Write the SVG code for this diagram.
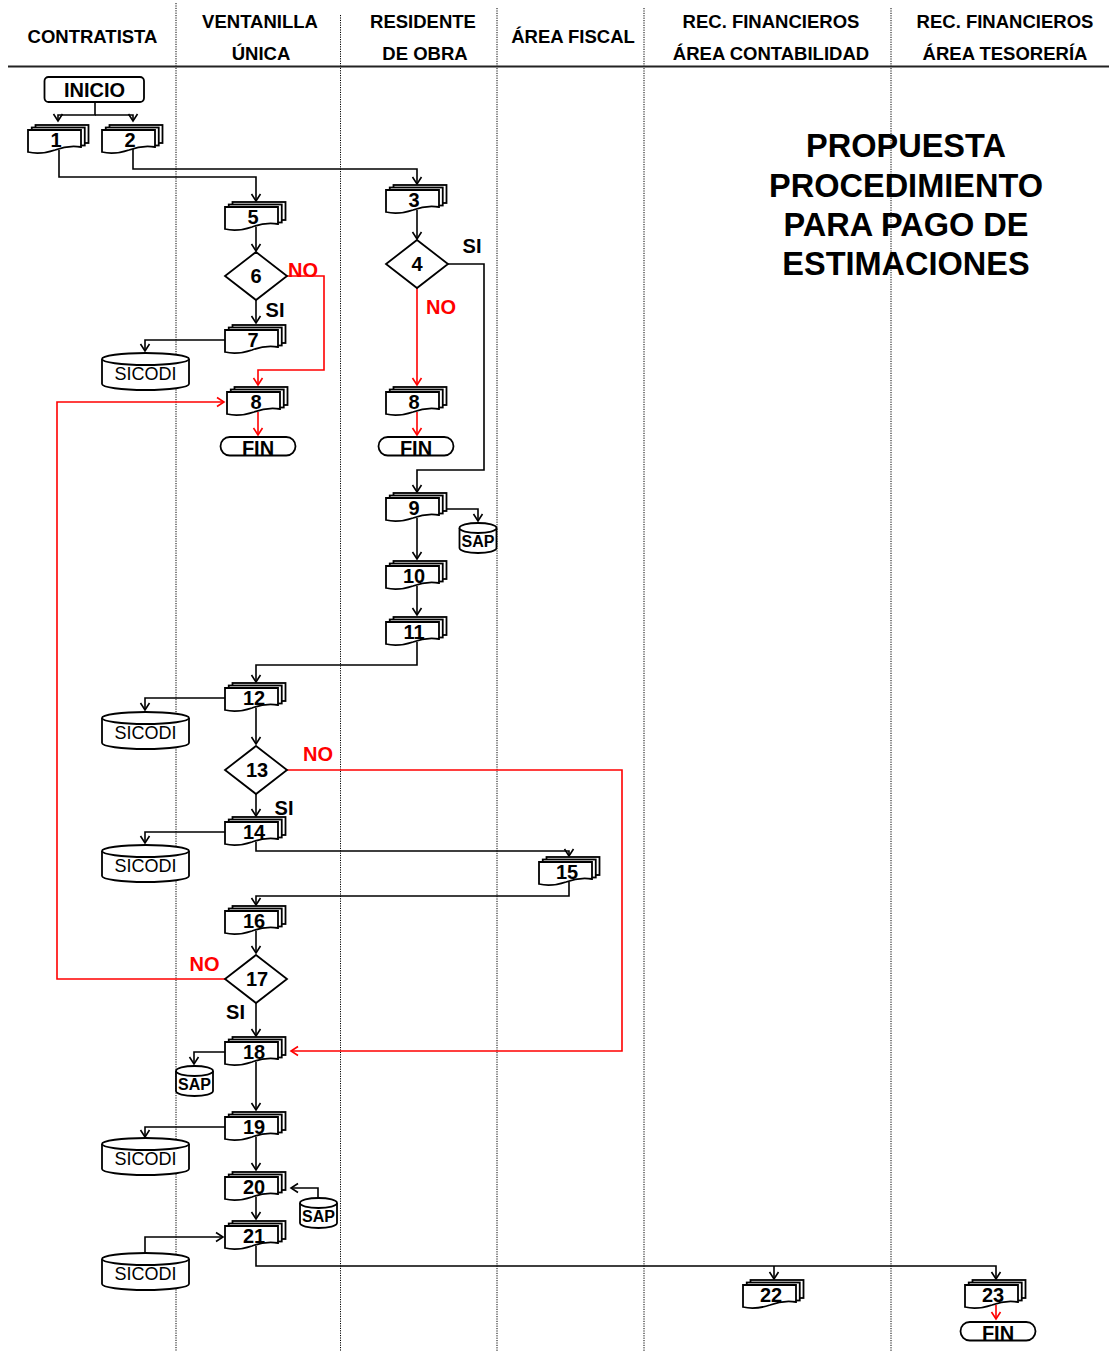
<svg xmlns="http://www.w3.org/2000/svg" xmlns:xlink="http://www.w3.org/1999/xlink" width="1109" height="1351" viewBox="0 0 1109 1351">
<style>
text{font-family:"Liberation Sans",Arial,sans-serif;text-anchor:middle}
.hd{font-size:18.5px;font-weight:bold}
.tt{font-size:32.5px;font-weight:bold}
.num{font-size:20px;font-weight:bold}
.lb{font-size:20px;font-weight:bold}
.red{fill:#ff0000}
.db{font-size:18px}
.sap{font-size:16px;font-weight:bold}
.term{font-size:20px;font-weight:bold}
.lane{stroke:#000;stroke-width:1;stroke-dasharray:1.2 1.2;fill:none}
.shp{fill:#fff;stroke:#000;stroke-width:1.8}
.c{fill:none;stroke:#000;stroke-width:1.6}
.cr{fill:none;stroke:#ff0000;stroke-width:1.6}
</style>
<defs>
<marker id="ab" markerUnits="userSpaceOnUse" viewBox="-10 -6 12 12" refX="0" refY="0" markerWidth="12" markerHeight="12" orient="auto" overflow="visible">
<path d="M-7,-4.5 L0,0 L-7,4.5" fill="none" stroke="#000" stroke-width="1.6"/>
</marker>
<marker id="ar" markerUnits="userSpaceOnUse" viewBox="-10 -6 12 12" refX="0" refY="0" markerWidth="12" markerHeight="12" orient="auto" overflow="visible">
<path d="M-7,-4.5 L0,0 L-7,4.5" fill="none" stroke="#ff0000" stroke-width="1.6"/>
</marker>
<g id="doc">
<rect x="7.5" y="-5" width="53" height="18" class="shp"/>
<rect x="3.75" y="-2.5" width="53" height="18" class="shp"/>
<path d="M0,0 H53 V17 Q40,15 27,20 Q12,25 0,22 Z" class="shp"/>
</g>
<g id="sicodi">
<path d="M0,6 A43.5,6 0 0 1 87,6 V31 A43.5,6 0 0 1 0,31 Z" class="shp"/>
<path d="M0,6 A43.5,6 0 0 0 87,6" class="shp" fill="none"/>
</g>
<g id="sapdb">
<path d="M0,5 A18.5,5 0 0 1 37,5 V25 A18.5,5 0 0 1 0,25 Z" class="shp"/>
<path d="M0,5 A18.5,5 0 0 0 37,5" class="shp" fill="none"/>
</g>
</defs>
<rect width="1109" height="1351" fill="#fff"/>

<g id="lanes">
<line x1="176" y1="3" x2="176" y2="1351" class="lane"/>
<line x1="340.5" y1="15" x2="340.5" y2="1351" class="lane"/>
<line x1="497" y1="8" x2="497" y2="1351" class="lane"/>
<line x1="644" y1="8" x2="644" y2="1351" class="lane"/>
<line x1="891" y1="8" x2="891" y2="1351" class="lane"/>
<line x1="8" y1="66.5" x2="1109" y2="66.5" stroke="#222" stroke-width="2"/>
</g>

<g id="headers">
<text x="92.5" y="43" class="hd">CONTRATISTA</text>
<text x="260" y="28" class="hd">VENTANILLA</text>
<text x="261" y="60" class="hd">ÚNICA</text>
<text x="423" y="28" class="hd">RESIDENTE</text>
<text x="425" y="60" class="hd">DE OBRA</text>
<text x="573" y="43" class="hd">ÁREA FISCAL</text>
<text x="771" y="28" class="hd">REC. FINANCIEROS</text>
<text x="771" y="60" class="hd">ÁREA CONTABILIDAD</text>
<text x="1005" y="28" class="hd">REC. FINANCIEROS</text>
<text x="1005" y="60" class="hd">ÁREA TESORERÍA</text>
</g>

<g id="title">
<text x="906" y="157" class="tt">PROPUESTA</text>
<text x="906" y="197" class="tt">PROCEDIMIENTO</text>
<text x="906" y="236" class="tt">PARA PAGO DE</text>
<text x="906" y="275" class="tt">ESTIMACIONES</text>
</g>

<g id="connectors">
<path d="M95,102 V115 H58 V121" class="c" marker-end="url(#ab)"/>
<path d="M95,115 H133 V121" class="c" marker-end="url(#ab)"/>
<path d="M59,150 V177 H256 V201" class="c" marker-end="url(#ab)"/>
<path d="M133,149 V169 H417 V184" class="c" marker-end="url(#ab)"/>
<path d="M256,227 V251" class="c" marker-end="url(#ab)"/>
<path d="M256,300 V323" class="c" marker-end="url(#ab)"/>
<path d="M287,276 H324 V370 H258 V385" class="cr" marker-end="url(#ar)"/>
<path d="M225,340 H145 V351" class="c" marker-end="url(#ab)"/>
<path d="M258,412 V435" class="cr" marker-end="url(#ar)"/>
<path d="M417,210 V239" class="c" marker-end="url(#ab)"/>
<path d="M448,264 H484 V470 H417 V492" class="c" marker-end="url(#ab)"/>
<path d="M417,288 V385" class="cr" marker-end="url(#ar)"/>
<path d="M417,412 V435" class="cr" marker-end="url(#ar)"/>
<path d="M446,509 H478 V521" class="c" marker-end="url(#ab)"/>
<path d="M417,518 V559" class="c" marker-end="url(#ab)"/>
<path d="M417,586 V615" class="c" marker-end="url(#ab)"/>
<path d="M417,642 V665 H256 V682" class="c" marker-end="url(#ab)"/>
<path d="M225,698 H145 V710" class="c" marker-end="url(#ab)"/>
<path d="M256,708 V744" class="c" marker-end="url(#ab)"/>
<path d="M287,770 H622 V1051 H291" class="cr" marker-end="url(#ar)"/>
<path d="M256,794 V816" class="c" marker-end="url(#ab)"/>
<path d="M225,832 H145 V843" class="c" marker-end="url(#ab)"/>
<path d="M256,842 V851 H569 V856" class="c" marker-end="url(#ab)"/>
<path d="M569,882 V896 H256 V905" class="c" marker-end="url(#ab)"/>
<path d="M256,931 V953" class="c" marker-end="url(#ab)"/>
<path d="M225,979 H57 V402 H224" class="cr" marker-end="url(#ar)"/>
<path d="M256,1003 V1036" class="c" marker-end="url(#ab)"/>
<path d="M225,1052 H194 V1064" class="c" marker-end="url(#ab)"/>
<path d="M256,1062 V1110" class="c" marker-end="url(#ab)"/>
<path d="M225,1127 H145 V1137" class="c" marker-end="url(#ab)"/>
<path d="M256,1137 V1170" class="c" marker-end="url(#ab)"/>
<path d="M318,1198 V1188 H291" class="c" marker-end="url(#ab)"/>
<path d="M256,1197 V1219" class="c" marker-end="url(#ab)"/>
<path d="M145,1253 V1237 H223" class="c" marker-end="url(#ab)"/>
<path d="M256,1246 V1266 H996 V1279" class="c" marker-end="url(#ab)"/>
<path d="M774,1266 V1279" class="c" marker-end="url(#ab)"/>
<path d="M996,1305 V1319" class="cr" marker-end="url(#ar)"/>
</g>

<g id="labels">
<text x="303" y="277" class="lb red">NO</text>
<text x="275" y="317" class="lb">SI</text>
<text x="472" y="253" class="lb">SI</text>
<text x="441" y="314" class="lb red">NO</text>
<text x="318" y="761" class="lb red">NO</text>
<text x="284" y="815" class="lb">SI</text>
<text x="204.5" y="971" class="lb red">NO</text>
<text x="235.5" y="1019" class="lb">SI</text>
</g>

<g id="inicio"><rect x="44.5" y="77" width="99.5" height="25" rx="4" class="shp"/><text x="94.5" y="97" class="term">INICIO</text></g>
<g id="n1"><use xlink:href="#doc" x="28" y="130"/><text x="56" y="147" class="num">1</text></g>
<g id="n2"><use xlink:href="#doc" x="102" y="130"/><text x="130" y="147" class="num">2</text></g>
<g id="n3"><use xlink:href="#doc" x="386" y="190"/><text x="414" y="207" class="num">3</text></g>
<g id="n4"><path d="M417,240 L448,264 L417,288 L386,264 Z" class="shp"/><text x="417" y="271" class="num">4</text></g>
<g id="n5"><use xlink:href="#doc" x="225" y="207"/><text x="253" y="224" class="num">5</text></g>
<g id="n6"><path d="M256,252 L287,276 L256,300 L225,276 Z" class="shp"/><text x="256" y="283" class="num">6</text></g>
<g id="n7"><use xlink:href="#doc" x="225" y="330"/><text x="253" y="347" class="num">7</text></g>
<g id="sicodi1"><use xlink:href="#sicodi" x="102" y="353"/><text x="145.5" y="380" class="db">SICODI</text></g>
<g id="n8a"><use xlink:href="#doc" x="227" y="392"/><text x="256" y="409" class="num">8</text></g>
<g id="fin1"><rect x="220.5" y="437" width="75" height="18.5" rx="9.25" class="shp"/><text x="258" y="455" class="term">FIN</text></g>
<g id="n8b"><use xlink:href="#doc" x="386" y="392"/><text x="414" y="409" class="num">8</text></g>
<g id="fin2"><rect x="378.5" y="437" width="75" height="18.5" rx="9.25" class="shp"/><text x="416" y="455" class="term">FIN</text></g>
<g id="n9"><use xlink:href="#doc" x="386" y="498"/><text x="414" y="515" class="num">9</text></g>
<g id="sap1"><use xlink:href="#sapdb" x="459.5" y="523"/><text x="478" y="547" class="sap">SAP</text></g>
<g id="n10"><use xlink:href="#doc" x="386" y="566"/><text x="414" y="583" class="num">10</text></g>
<g id="n11"><use xlink:href="#doc" x="386" y="622"/><text x="414" y="639" class="num">11</text></g>
<g id="n12"><use xlink:href="#doc" x="225" y="688"/><text x="254" y="705" class="num">12</text></g>
<g id="sicodi2"><use xlink:href="#sicodi" x="102" y="712"/><text x="145.5" y="739" class="db">SICODI</text></g>
<g id="n13"><path d="M256,746 L287,770 L256,794 L225,770 Z" class="shp"/><text x="257" y="777" class="num">13</text></g>
<g id="n14"><use xlink:href="#doc" x="225" y="822"/><text x="254" y="839" class="num">14</text></g>
<g id="sicodi3"><use xlink:href="#sicodi" x="102" y="845"/><text x="145.5" y="872" class="db">SICODI</text></g>
<g id="n15"><use xlink:href="#doc" x="539" y="862"/><text x="567" y="879" class="num">15</text></g>
<g id="n16"><use xlink:href="#doc" x="225" y="911"/><text x="254" y="928" class="num">16</text></g>
<g id="n17"><path d="M256,955 L287,979 L256,1003 L225,979 Z" class="shp"/><text x="257" y="986" class="num">17</text></g>
<g id="n18"><use xlink:href="#doc" x="225" y="1042"/><text x="254" y="1059" class="num">18</text></g>
<g id="sap2"><use xlink:href="#sapdb" x="176" y="1066"/><text x="194.5" y="1090" class="sap">SAP</text></g>
<g id="n19"><use xlink:href="#doc" x="225" y="1117"/><text x="254" y="1134" class="num">19</text></g>
<g id="sicodi4"><use xlink:href="#sicodi" x="102" y="1138"/><text x="145.5" y="1165" class="db">SICODI</text></g>
<g id="n20"><use xlink:href="#doc" x="225" y="1177"/><text x="254" y="1194" class="num">20</text></g>
<g id="sap3"><use xlink:href="#sapdb" x="300" y="1198"/><text x="318.5" y="1222" class="sap">SAP</text></g>
<g id="n21"><use xlink:href="#doc" x="225" y="1226"/><text x="254" y="1243" class="num">21</text></g>
<g id="sicodi5"><use xlink:href="#sicodi" x="102" y="1253"/><text x="145.5" y="1280" class="db">SICODI</text></g>
<g id="n22"><use xlink:href="#doc" x="743" y="1285"/><text x="771" y="1302" class="num">22</text></g>
<g id="n23"><use xlink:href="#doc" x="965" y="1285"/><text x="993" y="1302" class="num">23</text></g>
<g id="fin3"><rect x="960.5" y="1322" width="75" height="18.5" rx="9.25" class="shp"/><text x="998" y="1340" class="term">FIN</text></g>
</svg>
